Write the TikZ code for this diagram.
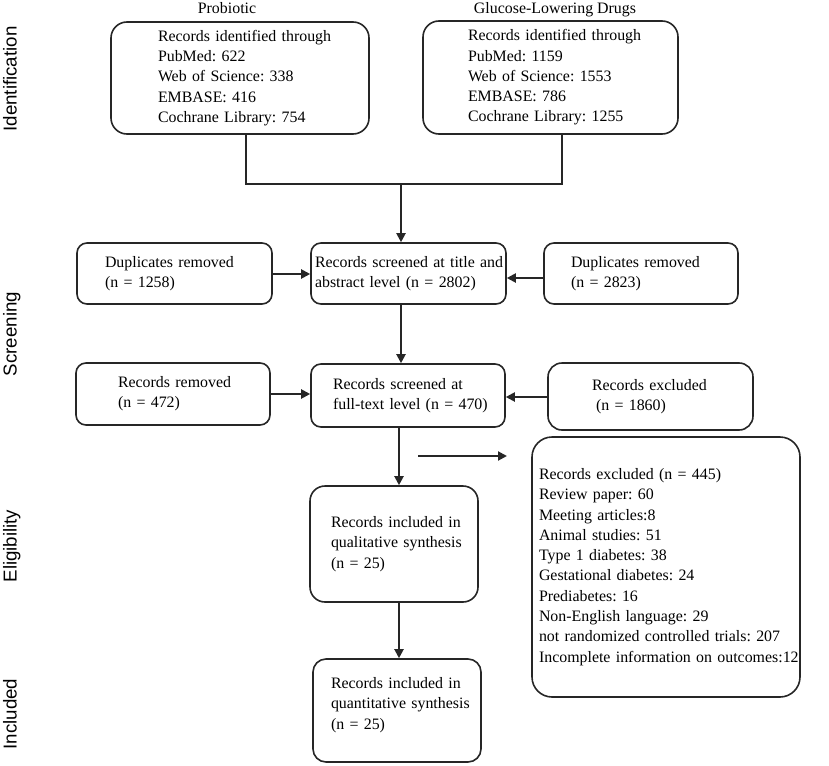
\documentclass[tikz,border=0pt]{standalone}
\usepackage{fontspec}
\setmainfont{Liberation Serif}
\newfontfamily\labelfont{Liberation Sans}
\usetikzlibrary{arrows.meta,calc}
\frenchspacing
\begin{document}
\begin{tikzpicture}[x=1pt,y=-1pt,
  box/.style={draw=black!85, line width=1.6pt, rounded corners=10pt, align=left,
    font=\frenchspacing\fontsize{15.9pt}{20.3pt}\selectfont, inner ysep=0pt},
  arr/.style={draw=black!85, line width=2pt, -{Triangle[length=9pt,width=9pt]}},
  conn/.style={draw=black!85, line width=2pt},
  side/.style={font=\labelfont\fontsize{18.7pt}{22pt}\selectfont, rotate=90, anchor=base},
  head/.style={font=\fontsize{15.9pt}{20pt}\selectfont, anchor=base}]
\useasboundingbox (0,0) rectangle (829,765);

% side labels
\node[side] (lid) at (16.5,79) {Identification};
\node[side] (lsc) at (16.5,334) {Screening};
\node[side] (lel) at (16.5,546) {Eligibility};
\node[side] (lin) at (16.5,714) {Included};

% headers
\node[head] (hp) at (227,14) {Probiotic};
\node[head] (hg) at (555,14) {Glucose-Lowering Drugs};

% identification
\node[box, rounded corners=16pt, text width=164pt, inner xsep=47pt, minimum height=112pt] (p1) at (240,78)
  {\mbox{Records identified through}\\PubMed: 622\\Web of Science: 338\\EMBASE: 416\\Cochrane Library: 754};
\node[box, rounded corners=16pt, text width=165pt, inner xsep=45pt, minimum height=113pt] (p2) at (550.5,77.5)
  {\mbox{Records identified through}\\PubMed: 1159\\Web of Science: 1553\\EMBASE: 786\\Cochrane Library: 1255};

% screening
\node[box, text width=139pt, inner xsep=28pt, minimum height=61pt] (dl) at (174.5,273.5)
  {\mbox{Duplicates removed}\\(n = 1258)};
\node[box, text width=187pt, inner xsep=4pt, minimum height=61pt] (s1) at (408.5,273.5)
  {\mbox{Records screened at title and}\\\mbox{abstract level (n = 2802)}};
\node[box, text width=140pt, inner xsep=27pt, minimum height=61pt] (dr) at (641,273.5)
  {\mbox{Duplicates removed}\\(n = 2823)};
\node[box, text width=110pt, inner xsep=42pt, minimum height=62pt] (rl) at (173,394)
  {\mbox{Records removed}\\(n = 472)};
\node[box, text width=150pt, inner xsep=22pt, minimum height=63pt] (s2) at (408,395.5)
  {\mbox{Records screened at}\\\mbox{full-text level (n = 470)}};
\node[box, rounded corners=14pt, text width=117pt, inner xsep=44pt, minimum height=67pt] (ex) at (650.5,396.5)
  {\mbox{Records excluded}\\\hspace*{4pt}(n = 1860)};

% eligibility / included
\node[box, rounded corners=15pt, text width=126pt, inner xsep=21pt, minimum height=116pt] (q1) at (394,544)
  {\mbox{Records included in}\\\mbox{qualitative synthesis}\\(n = 25)};
\node[box, rounded corners=13pt, text width=132pt, inner xsep=18pt, minimum height=103pt] (q2) at (397,710.5)
  {\mbox{Records included in}\\\mbox{quantitative synthesis}\\(n = 25)\\[-6pt]\mbox{}};
\node[box, rounded corners=20pt, text width=254pt, inner xsep=7pt, minimum height=260pt] (bx) at (666,567)
  {\mbox{Records excluded (n = 445)}\\Review paper: 60\\Meeting articles:8\\Animal studies: 51\\Type 1 diabetes: 38\\Gestational diabetes: 24\\Prediabetes: 16\\Non-English language: 29\\\mbox{not randomized controlled trials: 207}\\\mbox{Incomplete information on outcomes:12}};

% connectors
\coordinate (j1) at (246,184);
\coordinate (j2) at (562,184);
\coordinate (jc) at (401,184);
\coordinate (jl) at (399,0);
\coordinate (jd) at (0,274);
\coordinate (jr) at (0,278);
\coordinate (jm) at (0,394);
\coordinate (je) at (0,397);
\coordinate (fa) at (418,456);
\coordinate (fb) at (507,456);

\draw[conn] (p1.south -| j1) -- (j1) -- (j2) -- (p2.south -| j2);
\draw[arr] (jc) -- (s1.north -| jc);
\draw[arr] (dl.east |- jd) -- (s1.west |- jd);
\draw[arr] (dr.west |- jr) -- (s1.east |- jr);
\draw[arr] (rl.east |- jm) -- (s2.west |- jm);
\draw[arr] (ex.west |- je) -- (s2.east |- je);
\draw[arr] (s1.south -| jc) -- (s2.north -| jc);
\draw[arr] (s2.south -| jl) -- (q1.north -| jl);
\draw[arr] (q1.south -| jl) -- (q2.north -| jl);
\draw[arr] (fa) -- (fb);
\end{tikzpicture}
\end{document}
